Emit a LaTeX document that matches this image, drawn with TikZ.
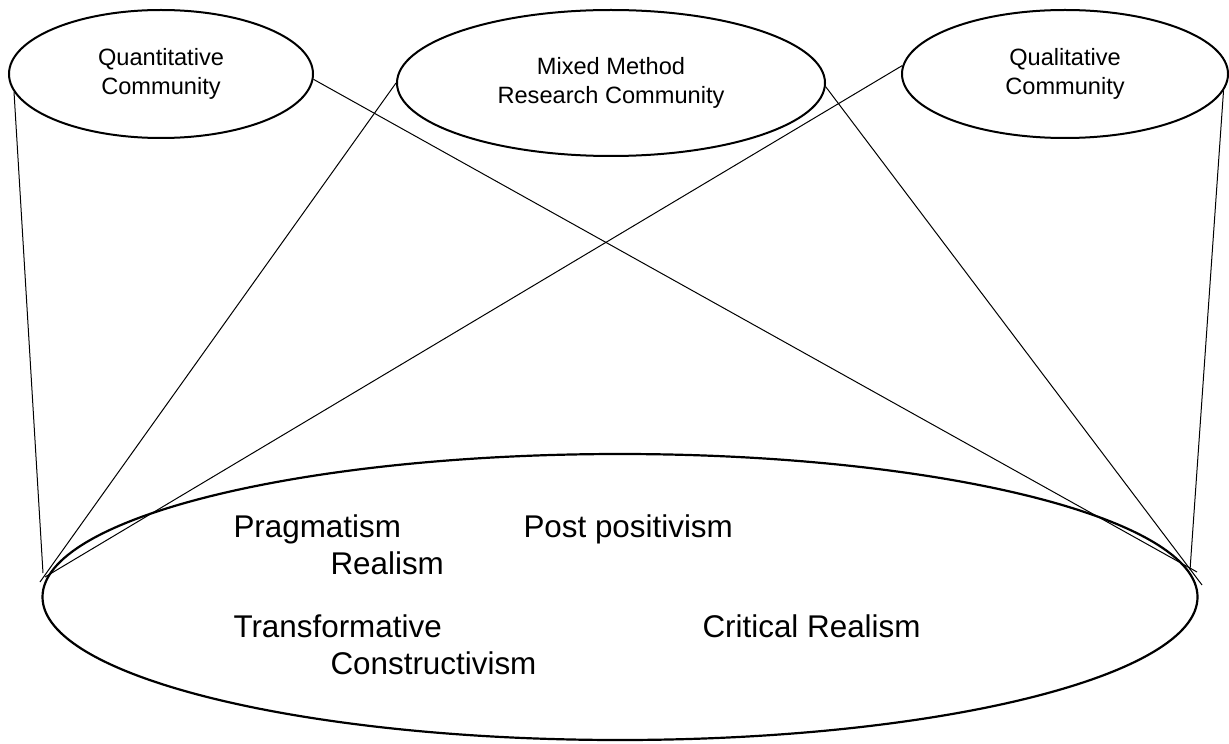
\documentclass[tikz,border=0pt]{standalone}
\usepackage{fontspec}
\setmainfont{Liberation Sans}
\usepackage{tikz}
\usetikzlibrary{shapes.geometric,positioning,calc}
\tikzset{
  every picture/.append style={line width=0.5pt},
}
\tikzset{
  community/.style={ellipse, draw=black, line width=1pt, inner sep=0pt, align=center,
                    font=\fontsize{11.8}{14.4}\selectfont},
  link/.style={draw=black, line width=0.5pt},
  paradigm/.style={anchor=base west, inner sep=0pt, font=\fontsize{15.7}{19}\selectfont}
}

\begin{document}
\begin{tikzpicture}[x=0.5pt, y=-0.5pt]

\useasboundingbox (0,0) rectangle (1229,743);

% Communities
\node[community, minimum width=152pt, minimum height=64pt] (quan) at (161,74) {Quantitative\\Community};
\node[community, minimum width=214pt, minimum height=73pt] (mixed) at (611,83) {Mixed Method\\Research Community};
\node[community, minimum width=163pt, minimum height=64pt] (qual) at (1065,74) {Qualitative\\Community};

% Paradigms
\node[community, line width=1.1pt, minimum width=577.5pt, minimum height=143pt] (base) at (620,597) {};

% Ends of the links
\coordinate (bl1) at (43,573);
\coordinate (bl2) at (40,582);
\coordinate (bl3) at (45,577);
\coordinate (br1) at (1197,572);
\coordinate (br2) at (1202,585);
\coordinate (br3) at (1190,570);

% Links
\draw[link] (quan.187) -- (bl1);
\draw[link] (quan.-2) -- (br1);
\draw[link] (mixed.180) -- (bl2);
\draw[link] (mixed.-1) -- (br2);
\draw[link] (qual.177) -- (bl3);
\draw[link] (qual.-6) -- (br3);

% Labels
\node[paradigm] (prag) at (233,537) {Pragmatism};
\node[paradigm] (post) at (523,537) {Post positivism};
\node[paradigm] (real) at (330,574) {Realism};
\node[paradigm] (trans) at (233,637) {Transformative};
\node[paradigm] (crit) at (702,637) {Critical Realism};
\node[paradigm] (cons) at (330,674) {Constructivism};

\end{tikzpicture}
\end{document}
